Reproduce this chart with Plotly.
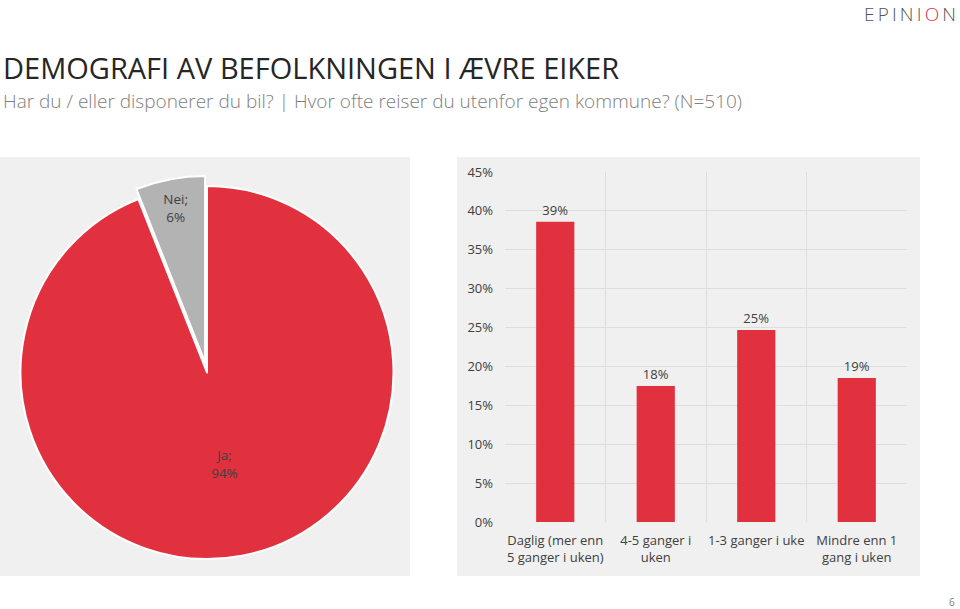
import plotly.graph_objects as go

# ---- data ----
pie_labels = ["Ja", "Nei"]
pie_values = [94, 6]

bar_categories = ["Daglig (mer enn<br>5 ganger i uken)", "4-5 ganger i<br>uken",
                  "1-3 ganger i uke", "Mindre enn 1<br>gang i uken"]
bar_values = [38.6, 17.5, 24.7, 18.5]
bar_labels = ["39%", "18%", "25%", "19%"]
bar_positions = [0.5, 1.5, 2.5, 3.5]
category_bounds = [0, 1, 2, 3, 4]
y_ticks = [0, 5, 10, 15, 20, 25, 30, 35, 40, 45]
y_ticktext = [f"{v}%" for v in y_ticks]

title_text = "DEMOGRAFI AV BEFOLKNINGEN I ÆVRE EIKER"
subtitle_text = "Har du / eller disponerer du bil? | Hvor ofte reiser du utenfor egen kommune? (N=510)"

RED = "#E2313E"
GREY = "#B3B3B3"
PANEL = "#F0F0F0"
GRID = "#DEDEDE"
TXT = "#404040"
FONT = "Open Sans"

W, H = 960, 609

fig = go.Figure()

fig.add_trace(go.Pie(
    labels=pie_labels, values=pie_values, sort=False, direction="clockwise", rotation=0,
    marker=dict(colors=[RED, GREY], line=dict(color="white", width=2)),
    pull=[0, 0.055],
    texttemplate="%{label};<br>%{value}%", textposition="inside",
    insidetextorientation="horizontal",
    textfont=dict(family=FONT, size=13.5, color=TXT),
    domain=dict(x=[10.25 / W, 403.75 / W], y=[(H - 569.25) / H, (H - 175.75) / H]),
    showlegend=False, hoverinfo="label+value", automargin=False,
))

fig.add_trace(go.Bar(
    x=bar_positions, y=bar_values, marker=dict(color=RED, line=dict(width=0)),
    text=bar_labels, texttemplate="%{text}", textposition="outside",
    textfont=dict(family=FONT, size=13, color=TXT), cliponaxis=False,
    width=0.38, showlegend=False, xaxis="x", yaxis="y",
))
# invisible trace to drive the category-boundary grid axis
fig.add_trace(go.Scatter(x=category_bounds, y=[0] * 5, mode="markers",
                         marker=dict(opacity=0), xaxis="x2", yaxis="y",
                         showlegend=False, hoverinfo="skip"))

xdom = [505 / W, 907 / W]
ydom = [(H - 522) / H, (H - 172) / H]

fig.update_layout(
    width=W, height=H, autosize=False,
    margin=dict(l=0, r=0, t=0, b=0, pad=0, autoexpand=False),
    paper_bgcolor="white", plot_bgcolor=PANEL,
    font=dict(family=FONT, color=TXT, size=13),
    showlegend=False,
    xaxis=dict(domain=xdom, range=[0, 4], tickvals=bar_positions, ticktext=bar_categories,
               showgrid=False, zeroline=False, showline=False, ticks="", automargin=False,
               ticklabelstandoff=9,
               tickfont=dict(size=13, color=TXT), fixedrange=True),
    xaxis2=dict(domain=xdom, range=[0, 4], overlaying="x", tickvals=category_bounds,
                showgrid=True, gridcolor=GRID, gridwidth=1, showticklabels=False,
                zeroline=False, showline=False, ticks="", anchor="y", automargin=False,
                fixedrange=True),
    yaxis=dict(domain=ydom, range=[0, 45], tickvals=y_ticks, ticktext=y_ticktext,
               showgrid=True, gridcolor=GRID, gridwidth=1, zeroline=False,
               showline=False, ticks="", ticklabelstandoff=11, automargin=False,
               tickfont=dict(size=13, color=TXT), fixedrange=True),
    shapes=[
        dict(type="rect", xref="paper", yref="paper", x0=0, x1=410 / W,
             y0=(H - 576) / H, y1=(H - 157) / H, fillcolor=PANEL, line=dict(width=0), layer="below"),
        dict(type="rect", xref="paper", yref="paper", x0=457 / W, x1=920 / W,
             y0=(H - 576) / H, y1=(H - 157) / H, fillcolor=PANEL, line=dict(width=0), layer="below"),
    ],
    annotations=[
        dict(text=title_text, xref="paper", yref="paper", x=1 / W, y=(H - 68) / H,
             xanchor="left", yanchor="middle", showarrow=False,
             font=dict(family=FONT, size=29, color="#262626")),
        dict(text=subtitle_text, xref="paper", yref="paper", x=1 / W, y=(H - 101) / H,
             xanchor="left", yanchor="middle", showarrow=False,
             font=dict(family=FONT, size=19, color="#808080", weight=300)),
        dict(text="E\u2009P\u2009I\u2009N\u2009I\u2009<span style='color:#E2313E'>O</span>\u2009N",
             xref="paper", yref="paper",
             x=958 / W, y=(H - 14) / H, xanchor="right", yanchor="middle", showarrow=False,
             font=dict(family=FONT, size=19, color="#555555", weight=300)),
        dict(text="6", xref="paper", yref="paper", x=957 / W, y=(H - 602) / H,
             xanchor="right", yanchor="middle", showarrow=False,
             font=dict(family=FONT, size=10, color="#808080")),
    ],
)

fig.write_html("out.html", config={"displayModeBar": False},
               post_script="document.body.style.margin='0px';document.body.style.overflow='hidden';")
